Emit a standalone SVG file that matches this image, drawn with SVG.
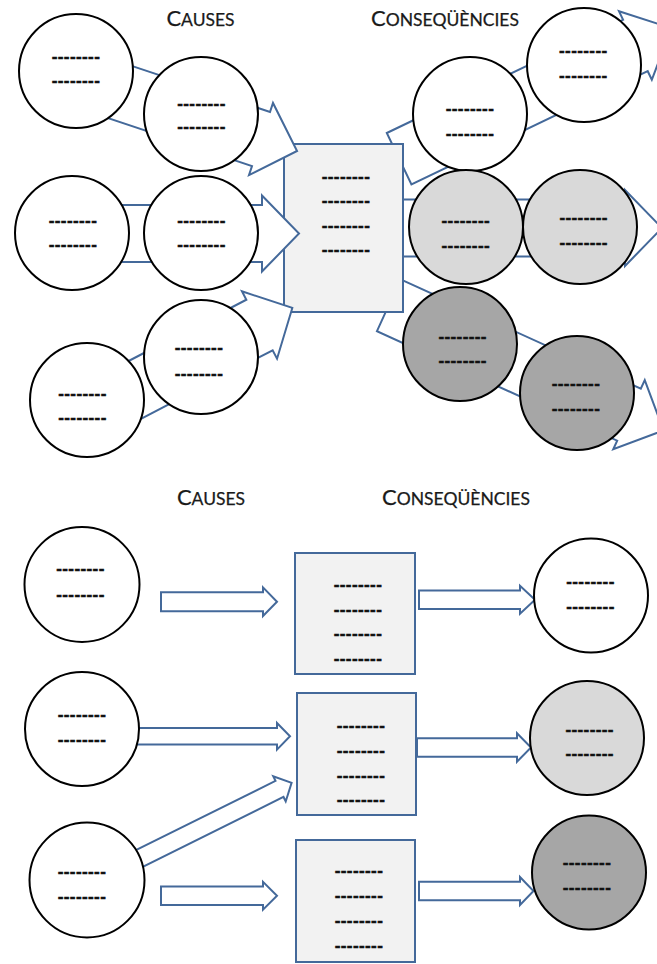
<svg xmlns="http://www.w3.org/2000/svg" width="657" height="964" viewBox="0 0 657 964">
<defs>
<style>
.c{fill:#fff;stroke:#000;stroke-width:2}
.g1{fill:#d9d9d9;stroke:#000;stroke-width:2}
.g2{fill:#a6a6a6;stroke:#000;stroke-width:2}
.r{fill:#f2f2f2;stroke:#44699a;stroke-width:2}
.a{fill:#fff;stroke:#44699a;stroke-width:2;stroke-linejoin:miter}
.d{font-family:"Liberation Sans",Arial,sans-serif;font-weight:bold;font-size:17px;text-anchor:middle;letter-spacing:0.4px;fill:#111;stroke:#111;stroke-width:0.5px}
.h{font-family:Lato,"Open Sans",sans-serif;text-anchor:middle;fill:#1a1a1a;stroke:#1a1a1a;stroke-width:0.25px;font-size:17.5px}
.hb{font-size:22px}
</style>
<clipPath id="outsideRect" clipPathUnits="userSpaceOnUse">
<path clip-rule="evenodd" d="M0,0H657V964H0Z M283,143V313H404V143Z"/>
</clipPath>
</defs>
<rect width="657" height="964" fill="#fff"/>

<!-- rectangles (drawn under connectors) -->
<g id="box-top">
<rect class="r" x="284" y="144" width="119" height="168"/>
<text class="d" x="346" y="181.5">--------</text>
<text class="d" x="346" y="206">--------</text>
<text class="d" x="346" y="230.5">--------</text>
<text class="d" x="346" y="255">--------</text>
</g>
<g id="box-b1">
<rect class="r" x="295" y="553" width="120" height="121"/>
<text class="d" x="358" y="590">--------</text>
<text class="d" x="358" y="614.5">--------</text>
<text class="d" x="358" y="638.5">--------</text>
<text class="d" x="358" y="663.5">--------</text>
</g>
<g id="box-b2">
<rect class="r" x="297" y="693" width="119" height="122"/>
<text class="d" x="361" y="731">--------</text>
<text class="d" x="361" y="755.5">--------</text>
<text class="d" x="361" y="780.5">--------</text>
<text class="d" x="361" y="804.5">--------</text>
</g>
<g id="box-b3">
<rect class="r" x="296" y="840" width="119" height="122"/>
<text class="d" x="359" y="876">--------</text>
<text class="d" x="359" y="901">--------</text>
<text class="d" x="359" y="926">--------</text>
<text class="d" x="359" y="950.5">--------</text>
</g>

<g id="connectors">
<!-- top: right-hand arrows, passing behind the box -->
<g clip-path="url(#outsideRect)">
<polygon class="a" transform="translate(635.4,45.5) rotate(-25.6)" points="-262,-28.5 0,-28.5 0,-38 40,0 0,38 0,28.5 -262,28.5"/>
<polygon class="a" transform="translate(625,228)" points="-245,-28.5 0,-28.5 0,-38 37,0 0,38 0,28.5 -245,28.5"/>
<polygon class="a" transform="translate(629,414.7) rotate(24.5)" points="-264,-28.5 0,-28.5 0,-38 38,0 0,38 0,28.5 -264,28.5"/>
</g>
<!-- top: left-hand arrows, over the box -->
<polygon class="a" transform="translate(261,139) rotate(18.4)" points="-195,-28.5 0,-28.5 0,-38 38,0 0,38 0,28.5 -195,28.5"/>
<polygon class="a" transform="translate(262,233.5)" points="-190,-28.5 0,-28.5 0,-38 37,0 0,38 0,28.5 -190,28.5"/>
<polygon class="a" transform="translate(259.5,325) rotate(-27.5)" points="-195,-28.5 0,-28.5 0,-38 37,0 0,38 0,28.5 -195,28.5"/>
<!-- bottom arrows -->
<polygon class="a" points="161,592.2 263,592.2 263,587.4 277,601.7 263,616 263,611.2 161,611.2"/>
<polygon class="a" points="419,590.5 520,590.5 520,585.8 535,599.8 520,613.8 520,609.1 419,609.1"/>
<polygon class="a" points="100,728 277,728 277,723 290,736.3 277,749.6 277,744.6 100,744.6"/>
<polygon class="a" transform="translate(279.5,788.9) rotate(-26.4)" points="-210,-9 0,-9 0,-14 13.5,0 0,14 0,9 -210,9"/>
<polygon class="a" points="417,738.3 517,738.3 517,733.3 531,747.5 517,761.7 517,756.7 417,756.7"/>
<polygon class="a" points="161,886.6 263,886.6 263,881.9 277,895.8 263,909.7 263,905 161,905"/>
<polygon class="a" points="419,881.8 520,881.8 520,877 533.5,891 520,905 520,900.2 419,900.2"/>
</g>

<!-- top causes -->
<g id="cause-1"><circle class="c" cx="76" cy="71" r="57"/>
<text class="d" x="76" y="61.8">--------</text><text class="d" x="76" y="85.5">--------</text></g>
<g id="cause-2"><circle class="c" cx="201" cy="114" r="57"/>
<text class="d" x="201.5" y="108.5">--------</text><text class="d" x="201.5" y="132.2">--------</text></g>
<g id="cause-3"><circle class="c" cx="72" cy="233" r="57"/>
<text class="d" x="73" y="225.5">--------</text><text class="d" x="73" y="249.5">--------</text></g>
<g id="cause-4"><circle class="c" cx="201" cy="233" r="57"/>
<text class="d" x="201.5" y="225.5">--------</text><text class="d" x="201.5" y="249.5">--------</text></g>
<g id="cause-5"><circle class="c" cx="87" cy="400" r="57"/>
<text class="d" x="82.5" y="398.5">--------</text><text class="d" x="82.5" y="422.8">--------</text></g>
<g id="cause-6"><circle class="c" cx="201" cy="357" r="57"/>
<text class="d" x="199" y="352.8">--------</text><text class="d" x="199" y="378.5">--------</text></g>

<!-- top consequences -->
<g id="cons-1"><circle class="c" cx="584" cy="65" r="57"/>
<text class="d" x="583.3" y="56.2">--------</text><text class="d" x="583.3" y="81.2">--------</text></g>
<g id="cons-2"><circle class="c" cx="470" cy="114" r="57"/>
<text class="d" x="470" y="113.8">--------</text><text class="d" x="470" y="138.5">--------</text></g>
<g id="cons-3"><circle class="g1" cx="466" cy="227" r="57"/>
<text class="d" x="465.8" y="226.2">--------</text><text class="d" x="465.8" y="250.5">--------</text></g>
<g id="cons-4"><circle class="g1" cx="580" cy="227" r="57"/>
<text class="d" x="583.7" y="222.8">--------</text><text class="d" x="583.7" y="247.8">--------</text></g>
<g id="cons-5"><circle class="g2" cx="460" cy="344" r="57"/>
<text class="d" x="462.7" y="342.2">--------</text><text class="d" x="462.7" y="366.2">--------</text></g>
<g id="cons-6"><circle class="g2" cx="577" cy="393" r="57"/>
<text class="d" x="576" y="388.5">--------</text><text class="d" x="576" y="413.5">--------</text></g>

<!-- bottom causes -->
<g id="b-cause-1"><circle class="c" cx="82" cy="584.5" r="57.5"/>
<text class="d" x="80.5" y="573.5">--------</text><text class="d" x="80.5" y="599.5">--------</text></g>
<g id="b-cause-2"><circle class="c" cx="82" cy="729" r="57"/>
<text class="d" x="82" y="719.5">--------</text><text class="d" x="82" y="744.5">--------</text></g>
<g id="b-cause-3"><circle class="c" cx="87" cy="880" r="57.5"/>
<text class="d" x="82" y="876.5">--------</text><text class="d" x="82" y="901.5">--------</text></g>

<!-- bottom consequences -->
<g id="b-cons-1"><circle class="c" cx="591" cy="595.5" r="57"/>
<text class="d" x="590.5" y="586.5">--------</text><text class="d" x="590.5" y="611.5">--------</text></g>
<g id="b-cons-2"><circle class="g1" cx="587" cy="738" r="57"/>
<text class="d" x="589.7" y="734.5">--------</text><text class="d" x="589.7" y="758.5">--------</text></g>
<g id="b-cons-3"><circle class="g2" cx="589" cy="872.5" r="57"/>
<text class="d" x="587" y="867.5">--------</text><text class="d" x="587" y="892.5">--------</text></g>

<!-- headings -->
<g id="title-causes-top"><text class="h" x="200.5" y="26"><tspan class="hb">C</tspan>AUSES</text></g>
<g id="title-cons-top"><text class="h" x="445" y="26"><tspan class="hb">C</tspan>ONSEQÜÈNCIES</text></g>
<g id="title-causes-bottom"><text class="h" x="211" y="505"><tspan class="hb">C</tspan>AUSES</text></g>
<g id="title-cons-bottom"><text class="h" x="456" y="505"><tspan class="hb">C</tspan>ONSEQÜÈNCIES</text></g>
</svg>
